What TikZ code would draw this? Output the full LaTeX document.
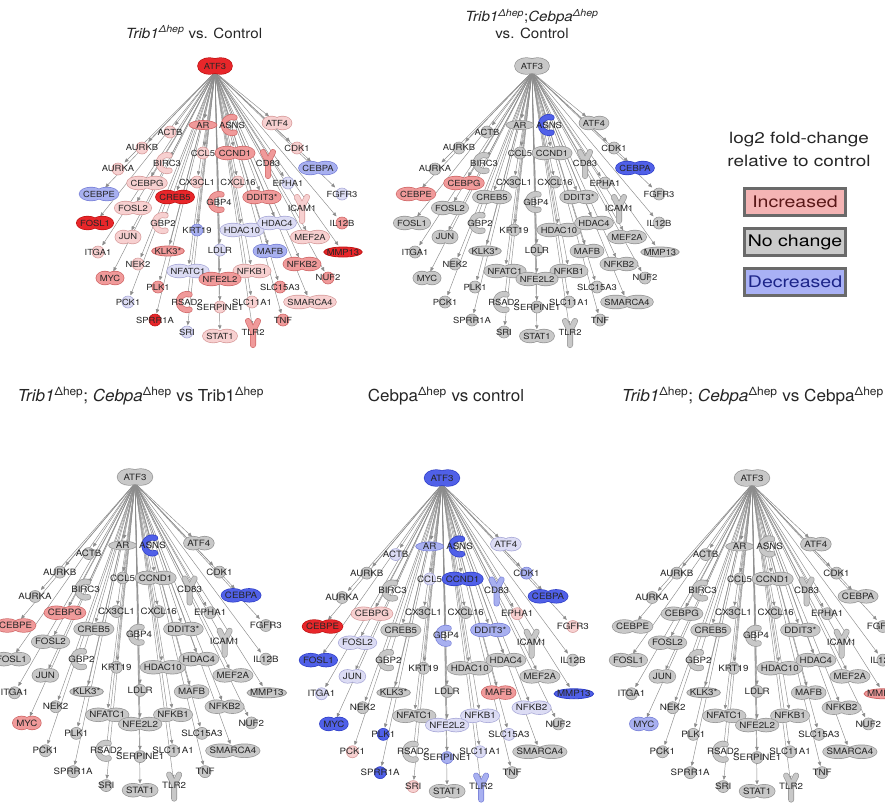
\documentclass[tikz,border=0pt]{standalone}
\usepackage{fontspec}
\usepackage{graphicx}
\setmainfont{TeX Gyre Heros}
\usetikzlibrary{arrows.meta}
\definecolor{fG}{HTML}{C8C8C8}\definecolor{dG}{HTML}{969696}
\definecolor{fR1}{HTML}{F7D0D0}\definecolor{dR1}{HTML}{D89C9C}
\definecolor{fR2}{HTML}{F09A9A}\definecolor{dR2}{HTML}{D06868}
\definecolor{fR3}{HTML}{E8262A}\definecolor{dR3}{HTML}{C01414}
\definecolor{fB1}{HTML}{DCDCF4}\definecolor{dB1}{HTML}{A8A8D8}
\definecolor{fB2}{HTML}{A8B0F0}\definecolor{dB2}{HTML}{7880D8}
\definecolor{fB3}{HTML}{5060E8}\definecolor{dB3}{HTML}{3040C8}
\definecolor{legline}{HTML}{6A6A6A}
\definecolor{incfill}{HTML}{F4B4B4}\definecolor{inctext}{HTML}{5A1818}
\definecolor{ncfill}{HTML}{CBCBCB}
\definecolor{decfill}{HTML}{A9B1F5}\definecolor{dectext}{HTML}{1C2488}
\newcommand\wide[2]{\scalebox{#1}[1]{#2}}
\tikzset{
  lbl/.style={font=\fontsize{\lfs}{\lfs}\selectfont, text=black!85, inner sep=0pt},
  ghost/.style={inner sep=0pt, minimum height=12pt},
  edge/.style={draw=black!45, line width=0.45pt, -{Triangle[length=4pt,width=3.4pt]}, shorten >=0.5pt},
  legbox/.style={draw=legline, line width=2.5pt, minimum width=101pt, minimum height=27pt, inner sep=0pt, font=\fontsize{16}{18}\selectfont},
  ttl/.style={font=\fontsize{14}{17}\selectfont, text=black!85},
  bttl/.style={font=\fontsize{16.5}{19}\selectfont, text=black!85}
}
\newdimen\wlen
\newcommand\setcols[2]{\foreach \g/\l in {#2}{\expandafter\xdef\csname c@#1@\g\endcsname{\l}}}
\newcommand\setcol[1]{%
  \ifcsname c@\pid @#1\endcsname\edef\lev{\csname c@\pid @#1\endcsname}\else\def\lev{G}\fi
  \edef\fc{f\lev}\edef\dc{d\lev}}
\def\yr{6.5}\def\xadd{3.5}
\newcommand\shppe[1]{%
  \pgfmathsetmacro\qq{\the\wlen/4}\pgfmathsetmacro\xr{max(\qq+\xadd,7)}%
  \draw[draw=\dc, line width=1.4pt] ([xshift=-\qq pt]#1.center) ellipse [x radius=\xr pt, y radius=\yr pt]
     ([xshift=\qq pt]#1.center) ellipse [x radius=\xr pt, y radius=\yr pt];
  \fill[\fc] ([xshift=-\qq pt]#1.center) ellipse [x radius=\xr pt, y radius=\yr pt]
     ([xshift=\qq pt]#1.center) ellipse [x radius=\xr pt, y radius=\yr pt];}
\newcommand\shpci[1]{%
  \filldraw[fill=\fc, draw=\dc, line width=0.6pt] (#1.center) circle (6pt);}
\newcommand\shpov[1]{%
  \pgfmathsetmacro\xr{\the\wlen/2+3}%
  \filldraw[fill=\fc, draw=\dc, line width=0.8pt] (#1.center) ellipse [x radius=\xr pt, y radius=5pt];}
\newcommand\shpar[1]{%
  \filldraw[fill=\fc, draw=\dc, line width=0.6pt] (#1.center) ellipse [x radius=14pt, y radius=4.5pt];}
\newcommand\shpcr[1]{%
  \draw[draw=\dc, line width=6pt, line cap=round] ([xshift=2.6pt,yshift=7.5pt]#1.center) arc[start angle=70, end angle=290, radius=8pt];
  \draw[draw=\fc, line width=4.6pt, line cap=round] ([xshift=2.6pt,yshift=7.5pt]#1.center) arc[start angle=70, end angle=290, radius=8pt];}
\newcommand\shpy[1]{%
  \draw[draw=\dc, line width=6pt, line cap=round, line join=round] ([yshift=-13pt]#1.center) -- ([yshift=1pt]#1.center) -- ([xshift=-5pt,yshift=11pt]#1.center)
     ([yshift=1pt]#1.center) -- ([xshift=5pt,yshift=11pt]#1.center);
  \draw[draw=\fc, line width=4.6pt, line cap=round, line join=round] ([yshift=-13pt]#1.center) -- ([yshift=1pt]#1.center) -- ([xshift=-5pt,yshift=11pt]#1.center)
     ([yshift=1pt]#1.center) -- ([xshift=5pt,yshift=11pt]#1.center);}
% passes: 0 = measure (before the picture), 1 = invisible named nodes, 2 = edges, 3 = shapes, 4 = labels
\newcommand\getw[1]{\wlen=\csname w@\lfs @#1\endcsname\relax}
\newcommand\gnA[6]{% #6: 1 = hub (no edge)
  \ifcase\pass
    \settowidth\wlen{\normalfont\fontsize{\lfs}{\lfs}\selectfont\wide{1.12}{#2}}%
    \expandafter\xdef\csname w@\lfs @#1\endcsname{\the\wlen}%
  \or
    \getw{#1}%
    \node[ghost, minimum width=\the\wlen+2pt] (\pid-#1) at ({\ox+\sx*(#3)},{\oy+\sy*(#4)}) {};
  \or
    \ifnum#6=0 \draw[edge] (\pid-ATF3.south) -- (\pid-#1);\fi
  \or
    \setcol{#1}\getw{#1}\csname shp#5\endcsname{\pid-#1}%
  \or
    \node[lbl] (\pid-#1-t) at (\pid-#1.center) {\wide{1.12}{#2}};
  \fi}
\newcommand\gn[5]{\gnA{#1}{#2}{#3}{#4}{#5}{0}}
\newcommand\allnodes{%
  {\def\yr{8}\def\xadd{6}\gnA{ATF3}{ATF3}{0}{0}{pe}{1}}%
  \gn{AR}{AR}{-12}{59}{ar}%
  \gn{ASNS}{ASNS}{17}{59}{cr}%
  \gn{ATF4}{ATF4}{62}{57}{pe}%
  \gn{ACTB}{ACTB}{-45}{66}{ci}%
  \gn{AURKB}{AURKB}{-73}{82}{ci}%
  \gn{CCL5}{CCL5}{-12}{87}{ci}%
  \gn{CCND1}{CCND1}{20}{87}{pe}%
  \gn{CDK1}{CDK1}{82}{82}{ci}%
  \gn{AURKA}{AURKA}{-97}{103}{ci}%
  \gn{BIRC3}{BIRC3}{-48}{97}{cr}%
  \gn{CD83}{CD83}{53}{97}{y}%
  \gn{CEBPA}{CEBPA}{103}{102}{pe}%
  \gn{CEBPG}{CEBPG}{-68}{117}{pe}%
  \gn{CX3CL1}{CX3CL1}{-18}{116}{ci}%
  \gn{CXCL16}{CXCL16}{23}{116}{ci}%
  \gn{EPHA1}{EPHA1}{73}{117}{ci}%
  \gn{CEBPE}{CEBPE}{-116}{128}{pe}%
  \gn{CREB5}{CREB5}{-40}{131}{pe}%
  \gn{GBP4}{GBP4}{4}{136}{cr}%
  \gn{DDIT3}{DDIT3*}{47}{131}{pe}%
  \gn{FGFR3}{FGFR3}{127}{128}{ci}%
  \gn{FOSL2}{FOSL2}{-82}{142}{pe}%
  \gn{ICAM1}{ICAM1}{87}{142}{y}%
  \gn{FOSL1}{FOSL1}{-120}{157}{pe}%
  \gn{GBP2}{GBP2}{-52}{157}{cr}%
  \gn{KRT19}{KRT19}{-18}{164}{ci}%
  \gn{HDAC10}{HDAC10}{27}{164}{pe}%
  \gn{HDAC4}{HDAC4}{62}{157}{pe}%
  \gn{IL12B}{IL12B}{127}{157}{ci}%
  \gn{JUN}{JUN}{-87}{171}{pe}%
  \gn{MEF2A}{MEF2A}{95}{171}{pe}%
  \gn{ITGA1}{ITGA1}{-117}{186}{ci}%
  \gn{KLK3}{KLK3*}{-47}{185}{ov}%
  \gn{LDLR}{LDLR}{5}{184}{ci}%
  \gn{MAFB}{MAFB}{55}{185}{pe}%
  \gn{MMP13}{MMP13}{128}{186}{ov}%
  \gn{NEK2}{NEK2}{-77}{198}{ci}%
  \gn{NFKB2}{NFKB2}{87}{198}{pe}%
  \gn{NFATC1}{NFATC1}{-27}{205}{pe}%
  \gn{NFKB1}{NFKB1}{37}{205}{pe}%
  \gn{MYC}{MYC}{-105}{212}{pe}%
  \gn{NFE2L2}{NFE2L2}{5}{213}{pe}%
  \gn{NUF2}{NUF2}{113}{212}{ci}%
  \gn{PLK1}{PLK1}{-57}{221}{ci}%
  \gn{SLC15A3}{SLC15A3}{65}{221}{ci}%
  \gn{PCK1}{PCK1}{-87}{236}{ci}%
  \gn{RSAD2}{RSAD2}{-28}{236}{cr}%
  \gn{SERPINE1}{SERPINE1}{5}{241}{ci}%
  \gn{SLC11A1}{SLC11A1}{37}{236}{ci}%
  \gn{SMARCA4}{SMARCA4}{95}{236}{pe}%
  \gn{SPRR1A}{SPRR1A}{-60}{254}{ci}%
  \gn{TNF}{TNF}{68}{254}{ci}%
  \gn{SRI}{SRI}{-28}{266}{ci}%
  \gn{STAT1}{STAT1}{5}{270}{pe}%
  \gn{TLR2}{TLR2}{38}{266}{y}%
}
\newcommand\panel[6]{\def\pid{#1}\def\ox{#2}\def\oy{#3}\def\sx{#4}\def\sy{#5}\def\lfs{#6}%
  \def\pass{1}\allnodes\def\pass{2}\allnodes\def\pass{3}\allnodes\def\pass{4}\allnodes}
\AtBeginDocument{\def\pass{0}\def\lfs{8.4}\allnodes\def\lfs{8.7}\allnodes}
\setcols{a}{ATF3/R3, AR/R2, ASNS/R2, ATF4/R1, ACTB/R1, AURKB/R1, CCL5/R1, CCND1/R2, CDK1/R1, AURKA/R1, BIRC3/R1, CD83/R2, CEBPA/B2, CEBPG/R1, CX3CL1/R1, CXCL16/R1, EPHA1/B1, CEBPE/B2, CREB5/R3, GBP4/R2, DDIT3/R2, FGFR3/B1, FOSL2/R1, ICAM1/R1, FOSL1/R3, GBP2/R1, KRT19/B2, HDAC10/B1, HDAC4/B1, IL12B/R2, JUN/R1, MEF2A/R1, ITGA1/R1, KLK3/R2, LDLR/B1, MAFB/B2, MMP13/R3, NEK2/R1, NFKB2/R2, NFATC1/B1, NFKB1/R1, MYC/R2, NFE2L2/R2, NUF2/R2, PLK1/R2, SLC15A3/R2, PCK1/B1, RSAD2/R2, SERPINE1/R1, SLC11A1/R1, SMARCA4/R1, SPRR1A/R3, TNF/R2, SRI/B1, STAT1/R1, TLR2/R2}
\setcols{b}{ASNS/B3, CEBPA/B3, CEBPE/R2, CEBPG/R2}
\setcols{c}{ASNS/B3, CEBPA/B3, CEBPE/R2, CEBPG/R2, MYC/R2}
\setcols{d}{ATF3/B3, AR/B2, ASNS/B3, ATF4/B1, ACTB/B1, CCL5/B1, CCND1/B3, CDK1/B2, CD83/B2, CEBPA/B3, CEBPG/R1, EPHA1/R1, CEBPE/R3, GBP4/B2, DDIT3/B2, FGFR3/R1, FOSL2/B1, FOSL1/B3, JUN/B1, ITGA1/B1, MAFB/R2, MMP13/B3, NFKB2/B1, NFKB1/B1, MYC/B3, NFE2L2/B1, PLK1/B3, SLC15A3/B1, PCK1/R1, SERPINE1/B2, SLC11A1/B1, SPRR1A/B3, SRI/R1, TLR2/B2}
\setcols{e}{MYC/B2, MMP13/R2}
\begin{document}
\begin{tikzpicture}[x=1pt,y=-1pt]
\fill[white] (0,0) rectangle (885,804);
\useasboundingbox (0,0) rectangle (885,804);
% titles
\node[ttl] (t1) at (194,32) {\wide{1.08}{\textit{Trib1}\textsuperscript{\textit{Δhep}} vs. Control}};
\node[ttl] (t2) at (532,17) {\wide{1.08}{\textit{Trib1}\textsuperscript{\textit{Δhep}};\textit{Cebpa}\textsuperscript{\textit{Δhep}}}};
\node[ttl] (t2b) at (532,33) {\wide{1.08}{vs. Control}};
\node[bttl, anchor=west] (t3) at (14,396) {\wide{1.03}{\textit{Trib1}\textsuperscript{Δhep}; \textit{Cebpa}\textsuperscript{Δhep} vs Trib1\textsuperscript{Δhep}}};
\node[bttl] (t4) at (446,396) {\wide{1.03}{Cebpa\textsuperscript{Δhep} vs control}};
\node[bttl, anchor=east, inner xsep=1pt] (t5) at (885,396) {\wide{1.04}{\textit{Trib1}\textsuperscript{Δhep}; \textit{Cebpa}\textsuperscript{Δhep} vs Cebpa\textsuperscript{Δhep}}};
% legend
\node[font=\fontsize{15.5}{21}\selectfont, text=black!85] (lt1) at (799,140) {\wide{1.22}{log2 fold-change}};
\node[font=\fontsize{15.5}{21}\selectfont, text=black!85] (lt2) at (799,161) {\wide{1.22}{relative to control}};
\node[legbox, fill=incfill, text=inctext] (l1) at (795,202) {\wide{1.22}{Increased}};
\node[legbox, fill=ncfill, text=black] (l2) at (795,242) {\wide{1.22}{No change}};
\node[legbox, fill=decfill, text=dectext] (l3) at (795,282) {\wide{1.22}{Decreased}};
% panels
\panel{a}{215}{66}{1}{1}{8.4}
\panel{b}{532}{66}{1}{1}{8.4}
\panel{c}{135}{477}{1.03}{1.16}{8.7}
\panel{d}{442}{478}{1.03}{1.16}{8.7}
\panel{e}{752}{478}{1.03}{1.16}{8.7}
\end{tikzpicture}
\end{document}
